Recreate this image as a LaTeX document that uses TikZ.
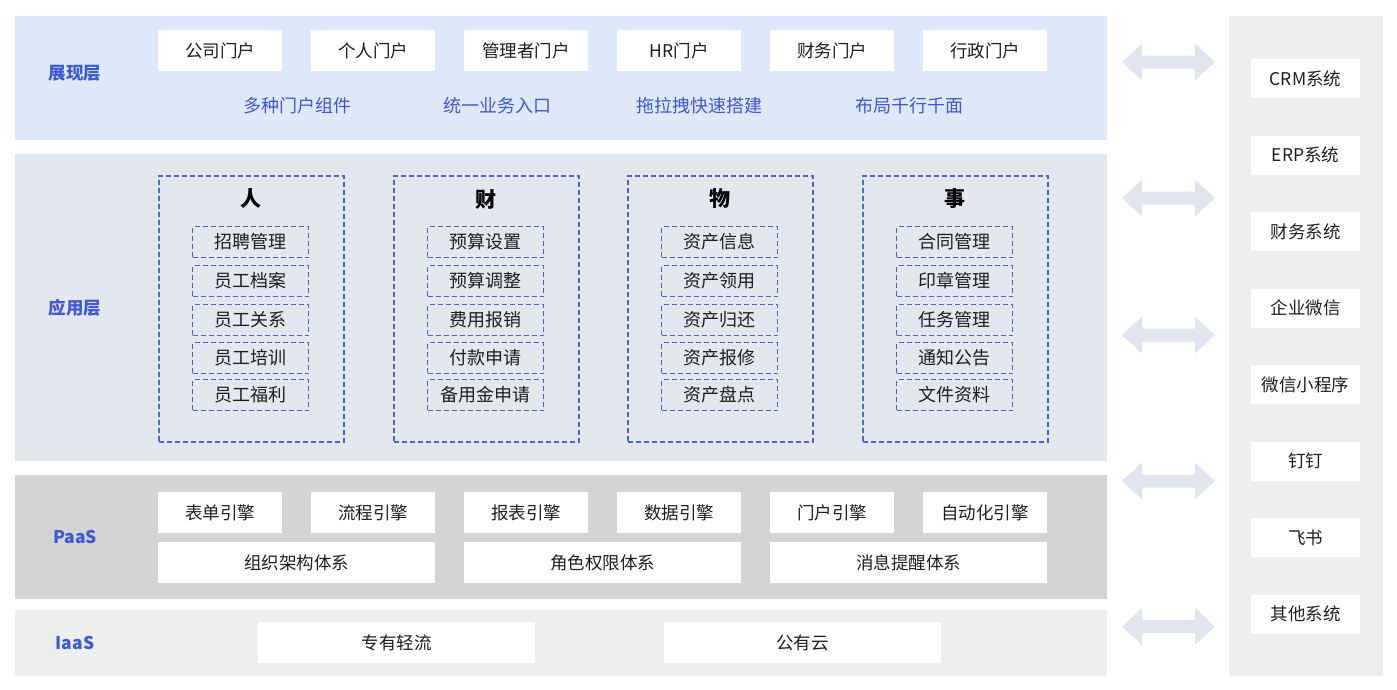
\documentclass[tikz,border=0pt]{standalone}
\usepackage{fontspec}
\setmainfont{Noto Sans CJK SC}
\definecolor{bandA}{HTML}{DDE9F9}
\definecolor{bandB}{HTML}{E3E7EE}
\definecolor{bandC}{HTML}{D4D4D4}
\definecolor{bandD}{HTML}{EDEEEE}
\definecolor{arrowc}{HTML}{E1E6EE}
\definecolor{lblue}{HTML}{3E58D6}
\definecolor{dblue}{HTML}{4A62DC}
\definecolor{txt}{HTML}{1E1E1E}
\tikzset{
  band/.style={inner sep=0pt, anchor=north west, outer sep=0pt},
  wbox/.style={fill=white, inner sep=0pt, anchor=north west, text=txt, font=\fontsize{17.5}{17.5}\selectfont},
  layerlbl/.style={text=lblue, font=\fontsize{17.5}{17.5}\selectfont\bfseries},
  bluetxt/.style={text=lblue, font=\fontsize{18}{18}\selectfont},
  groupbox/.style={draw=dblue, line width=1.7pt, dash pattern=on 5pt off 3pt, inner sep=0pt, anchor=north west},
  itembox/.style={draw=dblue, line width=1.7pt, dash pattern=on 5pt off 3pt, inner sep=0pt, minimum width=116pt, minimum height=31pt, text=txt, font=\fontsize{18}{18}\selectfont},
  grouptitle/.style={text=black, font=\fontsize{21}{21}\selectfont\bfseries},
  dblarrow/.style={fill=arrowc},
}
\begin{document}
\begin{tikzpicture}[x=1pt,y=-1pt]
\path[use as bounding box] (0,0) rectangle (1397,689);
% bands
\node[band, fill=bandA, minimum width=1092pt, minimum height=124pt] (b1) at (15,16) {};
\node[band, fill=bandB, minimum width=1092pt, minimum height=307pt] (b2) at (15,154) {};
\node[band, fill=bandC, minimum width=1092pt, minimum height=124pt] (b3) at (15,475) {};
\node[band, fill=bandD, minimum width=1092pt, minimum height=66pt] (b4) at (15,610) {};
\node[band, fill=bandD, minimum width=154pt, minimum height=660pt] (rc) at (1229,16) {};
% layer labels
\node[layerlbl] (l1) at (75,73) {展现层};
\node[layerlbl] (l2) at (75,308) {应用层};
\node[layerlbl] (l3) at (75,537) {PaaS};
\node[layerlbl] (l4) at (75,643) {IaaS};
% portals
\foreach \t [count=\i from 0] in {公司门户,个人门户,管理者门户,HR门户,财务门户,行政门户}{
  \node[wbox, minimum width=124pt, minimum height=41pt] (p\i) at ({158+153*\i},30) {\t};
}
\node[bluetxt] (f1) at (297,106) {多种门户组件};
\node[bluetxt] (f2) at (497,106) {统一业务入口};
\node[bluetxt] (f3) at (699,106) {拖拉拽快速搭建};
\node[bluetxt] (f4) at (909,106) {布局千行千面};
% app groups
\foreach \x/\t [count=\g] in {158/人,393/财,627/物,862/事}{
  \node[groupbox, minimum width=185pt, minimum height=266pt] (g\g) at (\x,175) {};
  \node[grouptitle] (gt\g) at ({\x+92.5},199) {\t};
}
\foreach \t [count=\j] in {招聘管理,员工档案,员工关系,员工培训,员工福利}{
  \pgfmathsetmacro\yy{{0,242,281,320,358,395}[\j]}
  \node[itembox] (a1\j) at (250.5,\yy) {\t};
}
\foreach \t [count=\j] in {预算设置,预算调整,费用报销,付款申请,备用金申请}{
  \pgfmathsetmacro\yy{{0,242,281,320,358,395}[\j]}
  \node[itembox] (a2\j) at (485.5,\yy) {\t};
}
\foreach \t [count=\j] in {资产信息,资产领用,资产归还,资产报修,资产盘点}{
  \pgfmathsetmacro\yy{{0,242,281,320,358,395}[\j]}
  \node[itembox] (a3\j) at (719.5,\yy) {\t};
}
\foreach \t [count=\j] in {合同管理,印章管理,任务管理,通知公告,文件资料}{
  \pgfmathsetmacro\yy{{0,242,281,320,358,395}[\j]}
  \node[itembox] (a4\j) at (954.5,\yy) {\t};
}
% PaaS
\foreach \t [count=\i from 0] in {表单引擎,流程引擎,报表引擎,数据引擎,门户引擎,自动化引擎}{
  \node[wbox, minimum width=124pt, minimum height=41pt] (e\i) at ({158+153*\i},492) {\t};
}
\node[wbox, minimum width=277pt, minimum height=41pt] (s1) at (158,542) {组织架构体系};
\node[wbox, minimum width=277pt, minimum height=41pt] (s2) at (464,542) {角色权限体系};
\node[wbox, minimum width=277pt, minimum height=41pt] (s3) at (770,542) {消息提醒体系};
% IaaS
\node[wbox, minimum width=277pt, minimum height=41pt] (i1) at (258,622) {专有轻流};
\node[wbox, minimum width=277pt, minimum height=41pt] (i2) at (664,622) {公有云};
% right systems
\foreach \t [count=\i from 0] in {CRM系统,ERP系统,财务系统,企业微信,微信小程序,钉钉,飞书,其他系统}{
  \node[wbox, anchor=center, minimum width=109pt, minimum height=39pt] (r\i) at (1305.5,{78.5+76.5*\i}) {\t};
}
% double arrows
\foreach \yc [count=\k] in {62,198,335,481,626.5}{
  \fill[dblarrow] (1122,\yc) -- (1142,\yc-18.5) -- (1142,\yc-6.5) -- (1195,\yc-6.5) -- (1195,\yc-18.5)
    -- (1215,\yc) -- (1195,\yc+18.5) -- (1195,\yc+6.5) -- (1142,\yc+6.5) -- (1142,\yc+18.5) -- cycle;
}
\end{tikzpicture}
\end{document}
